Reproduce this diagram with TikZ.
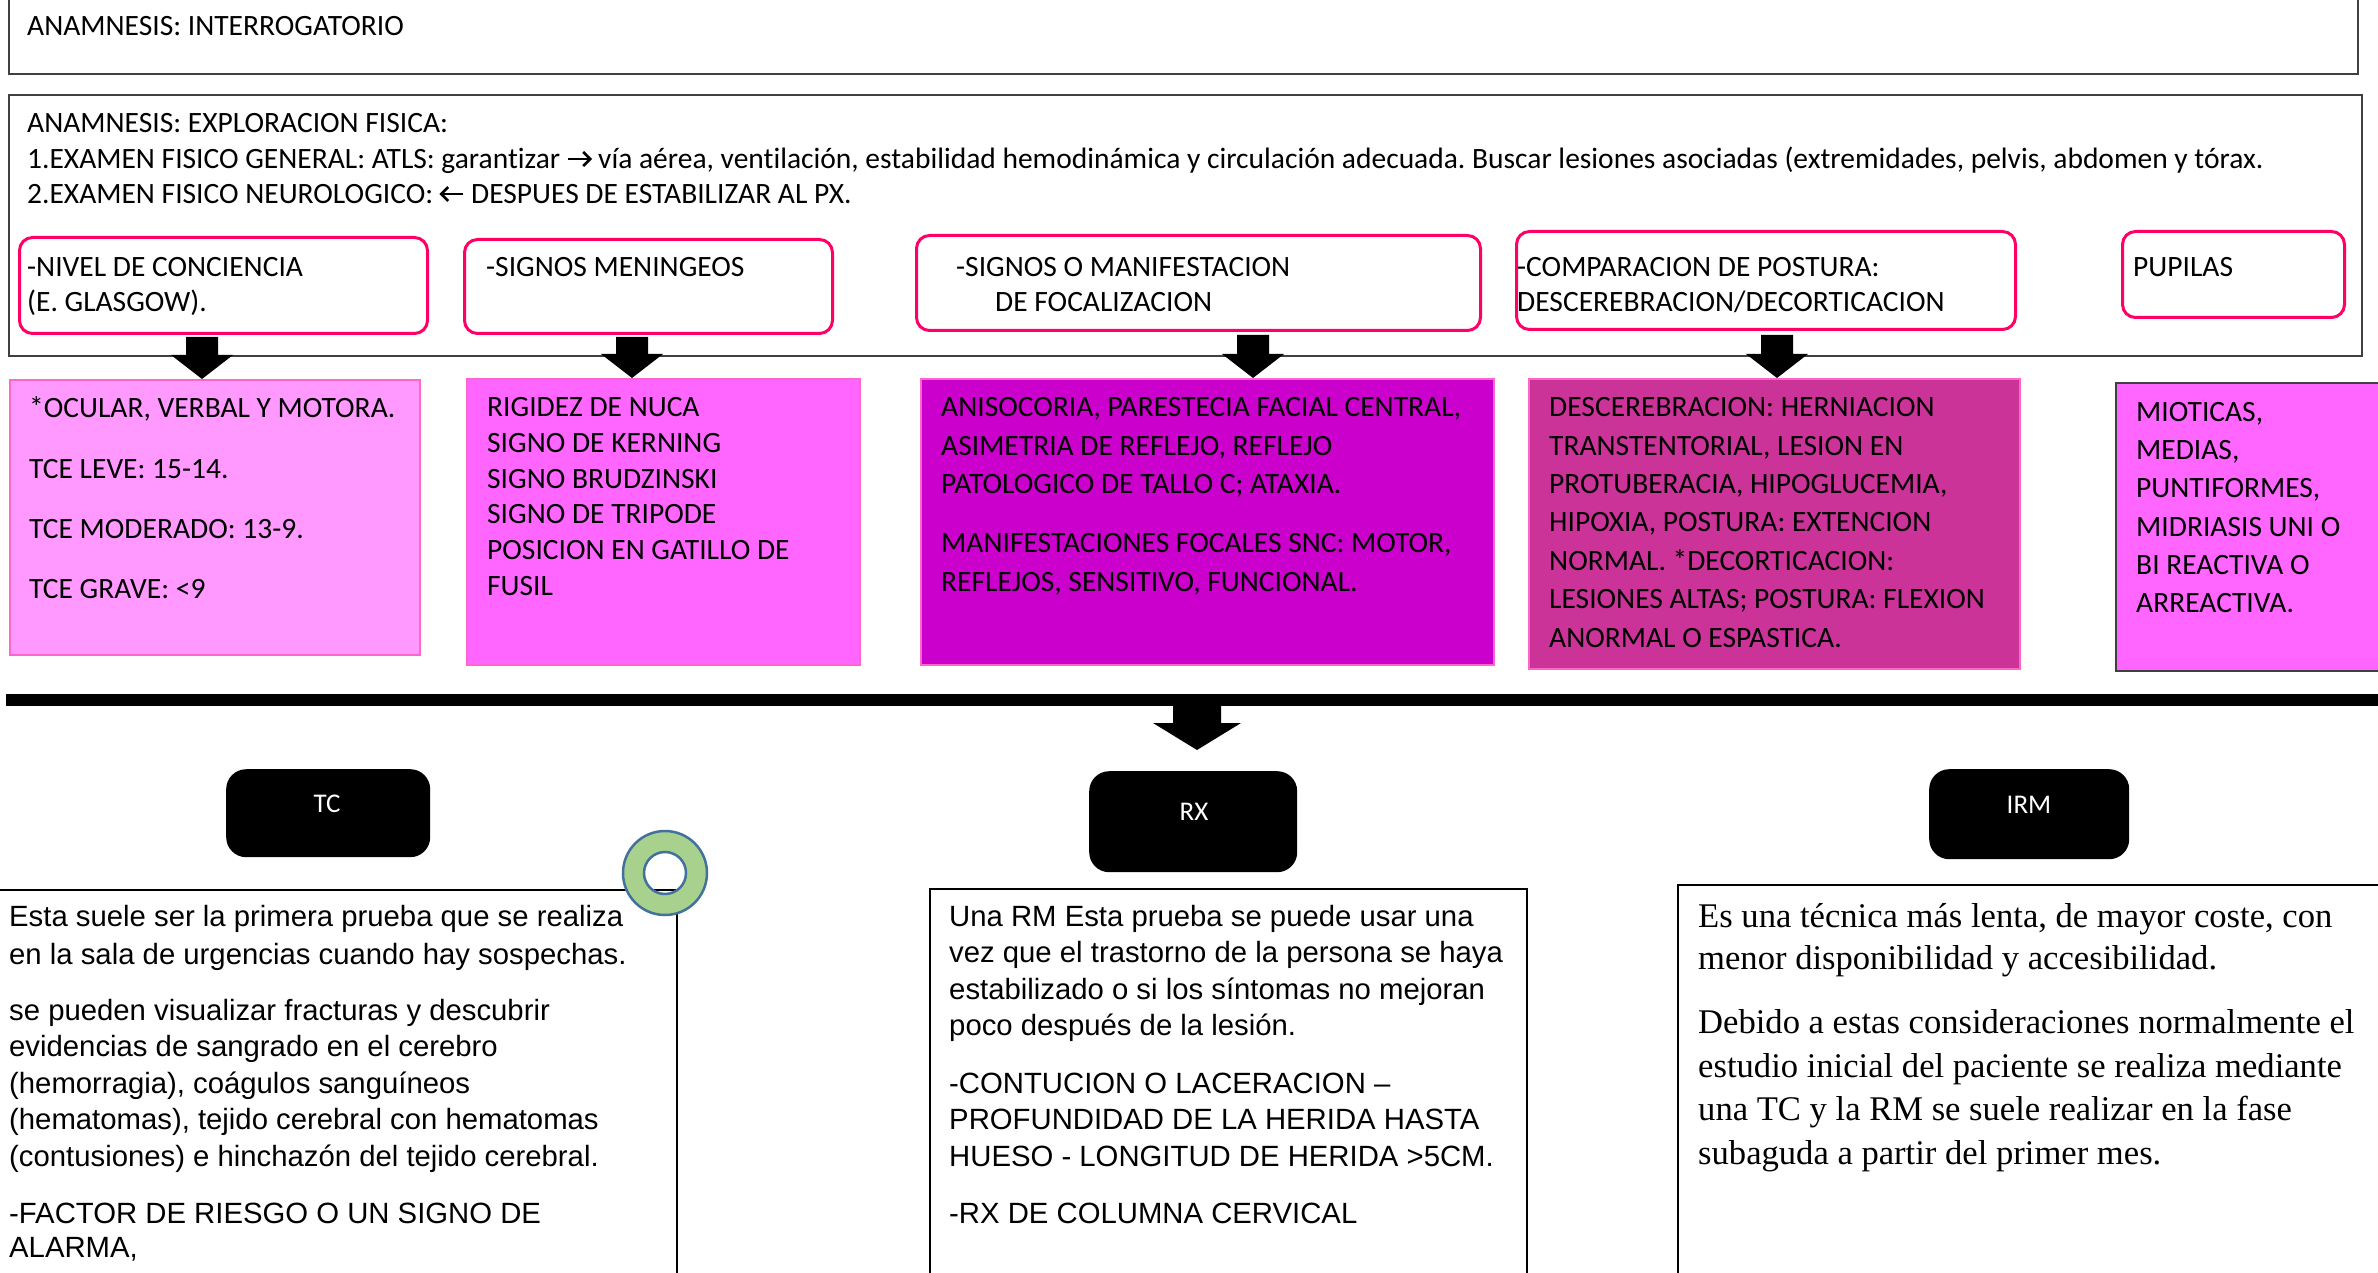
\documentclass[tikz,border=0pt]{standalone}
\usepackage{fontspec}
\setmainfont{Carlito}[Ligatures={NoCommon}]
\newfontfamily\arialf{Liberation Sans}
\newfontfamily\timesf{Liberation Serif}
\usetikzlibrary{calc}
\definecolor{pinkline}{HTML}{FF0066}
\definecolor{fa}{HTML}{FF99FF}
\definecolor{fb}{HTML}{FF66FF}
\definecolor{fc}{HTML}{CC00CC}
\definecolor{fd}{HTML}{CC3399}
\definecolor{fedge}{HTML}{FF66CC}
\definecolor{boxgray}{HTML}{404040}
\definecolor{ringg}{HTML}{A9D18E}
\definecolor{ringb}{HTML}{41719C}
\newcommand\blockarr[5]{\fill let \p1=(#1), \p2=(#2) in (\x1-#3,\y1) -- (\x1+#3,\y1) -- (\x1+#3,\y2+#5) -- (\x1+#4,\y2+#5) -- (\x1,\y2) -- (\x1-#4,\y2+#5) -- (\x1-#3,\y2+#5) -- cycle;}
\newcommand\myrarr{\tikz[baseline=0pt, x=1pt, y=1pt, line width=2.6pt, line cap=butt, line join=miter]{\draw (1,9.5) -- (23,9.5); \draw (16,2.5) -- (23,9.5) -- (16,16.5);}}
\newcommand\mylarr{\tikz[baseline=0pt, x=1pt, y=1pt, line width=2.6pt, line cap=butt, line join=miter]{\draw (24,9.5) -- (2,9.5); \draw (9,2.5) -- (2,9.5) -- (9,16.5);}}
\tikzset{
  outerframe/.style={draw=boxgray, line width=2pt, anchor=north west, inner sep=0pt},
  pbox/.style={draw=pinkline, line width=3pt, rounded corners=13pt, anchor=north west, inner sep=0pt},
  fbox/.style={anchor=north west, inner sep=0pt, draw=fedge, line width=1.5pt},
  kbox/.style={fill=black, rounded corners=20pt, anchor=north west, inner sep=0pt},
  tbox/.style={draw=black, line width=1.5pt, anchor=north west, inner sep=0pt},
  cal/.style={anchor=west, inner sep=0pt, font=\fontsize{29.5}{35}\selectfont, text height=19pt, text depth=0pt},
  ari/.style={anchor=west, inner sep=0pt, font=\arialf\fontsize{29.3}{35}\selectfont, text height=21pt, text depth=0pt},
  tms/.style={anchor=west, inner sep=0pt, font=\timesf\fontsize{34.6}{40}\selectfont, text height=22.9pt, text depth=0pt},
  wlab/.style={anchor=center, inner sep=0pt, text=white, font=\fontsize{27}{33}\selectfont, text height=17.4pt, text depth=0pt},
}
\begin{document}
\frenchspacing
\begin{tikzpicture}[x=1pt,y=-1pt]
\useasboundingbox (0,0) rectangle (2378,1273);
\begin{scope}
\clip (0,0) rectangle (2378,1273);
% top frames
\node[outerframe, minimum width=2349pt, minimum height=80pt] (box1) at (8,-7) {};
\node[cal] (t1) at (27,26) {ANAMNESIS: INTERROGATORIO};
\node[outerframe, minimum width=2353pt, minimum height=261pt] (box2) at (8,94) {};
\node[cal] (t2) at (27,123) {ANAMNESIS: EXPLORACION FISICA:};
\node[cal] (t3) at (27,159) {1.EXAMEN FISICO GENERAL: ATLS: garantizar \myrarr{} vía aérea, ventilación, estabilidad hemodinámica y circulación adecuada. Buscar lesiones asociadas (extremidades, pelvis, abdomen y tórax.};
\node[cal] (t4) at (27,194) {2.EXAMEN FISICO NEUROLOGICO: \mylarr{} DESPUES DE ESTABILIZAR AL PX.};
% pink outlined boxes
\node[pbox, minimum width=408pt, minimum height=96pt] (pA) at (18,236) {};
\node[cal] (pAt1) at (27,267) {-NIVEL DE CONCIENCIA};
\node[cal] (pAt2) at (27,302) {(E. GLASGOW).};
\node[pbox, minimum width=368pt, minimum height=94pt] (pB) at (463,238) {};
\node[cal] (pBt1) at (486,267) {-SIGNOS MENINGEOS};
\node[pbox, minimum width=564pt, minimum height=95pt] (pC) at (915,234) {};
\node[cal] (pCt1) at (956,267) {-SIGNOS O MANIFESTACION};
\node[cal] (pCt2) at (995,302) {DE FOCALIZACION};
\node[pbox, minimum width=499pt, minimum height=98pt] (pD) at (1515,230) {};
\node[cal] (pDt1) at (1517,267) {-COMPARACION DE POSTURA:};
\node[cal] (pDt2) at (1517,302) {DESCEREBRACION/DECORTICACION};
\node[pbox, minimum width=222pt, minimum height=86pt] (pE) at (2121,230) {};
\node[cal] (pEt1) at (2133,267) {PUPILAS};
% filled boxes
\node[fbox, fill=fa, minimum width=410pt, minimum height=275pt] (fA) at (9,379) {};
\node[fbox, fill=fb, minimum width=393pt, minimum height=286pt] (fB) at (466,378) {};
\node[fbox, fill=fc, minimum width=573pt, minimum height=286pt] (fC) at (920,378) {};
\node[fbox, fill=fd, minimum width=491pt, minimum height=290pt] (fD) at (1528,378) {};
\node[fbox, fill=fb, draw=boxgray, line width=2pt, minimum width=300pt, minimum height=288pt] (fE) at (2115,382) {};
\foreach \t/\yy [count=\i] in {{*OCULAR, VERBAL Y MOTORA.}/408, {TCE LEVE: 15-14.}/469, {TCE MODERADO: 13-9.}/529, {TCE GRAVE: <9}/589}
  \node[cal] (fAt\i) at (29,\yy) {\t};
\foreach \t/\yy [count=\i] in {{RIGIDEZ DE NUCA}/407, {SIGNO DE KERNING}/443, {SIGNO BRUDZINSKI}/479, {SIGNO DE TRIPODE}/514, {POSICION EN GATILLO DE}/550, {FUSIL}/586}
  \node[cal] (fBt\i) at (487,\yy) {\t};
\foreach \t/\yy [count=\i] in {{ANISOCORIA, PARESTECIA FACIAL CENTRAL,}/407, {ASIMETRIA DE REFLEJO, REFLEJO}/446, {PATOLOGICO DE TALLO C; ATAXIA.}/484, {MANIFESTACIONES FOCALES SNC: MOTOR,}/543, {REFLEJOS, SENSITIVO, FUNCIONAL.}/582}
  \node[cal] (fCt\i) at (941,\yy) {\t};
\foreach \t/\yy [count=\i] in {{DESCEREBRACION: HERNIACION}/407, {TRANSTENTORIAL, LESION EN}/446, {PROTUBERACIA, HIPOGLUCEMIA,}/484, {HIPOXIA, POSTURA: EXTENCION}/522, {NORMAL. *DECORTICACION:}/561, {LESIONES ALTAS; POSTURA: FLEXION}/599, {ANORMAL O ESPASTICA.}/638}
  \node[cal] (fDt\i) at (1549,\yy) {\t};
\foreach \t/\yy [count=\i] in {{MIOTICAS,}/412, {MEDIAS,}/450, {PUNTIFORMES,}/488, {MIDRIASIS UNI O}/527, {BI REACTIVA O}/565, {ARREACTIVA.}/603}
  \node[cal] (fEt\i) at (2136,\yy) {\t};
% block arrows from pink boxes to filled boxes
\coordinate (a1s) at (202,337);
\coordinate (a2s) at (632,337);
\coordinate (a3s) at (1253,335);
\coordinate (a4s) at (1777,335);
\blockarr{a1s}{a1s |- fA.north}{16pt}{31pt}{24pt}
\blockarr{a2s}{a2s |- fB.north}{16pt}{31pt}{24pt}
\blockarr{a3s}{a3s |- fC.north}{16pt}{31pt}{24pt}
\blockarr{a4s}{a4s |- fD.north}{16pt}{31pt}{24pt}
% thick bar
\coordinate (barL) at (6,700);
\coordinate (barR) at (2390,700);
\draw[line width=12pt] (barL) -- (barR);
\coordinate (bigs) at (1197,704);
\coordinate (bigt) at (1197,750);
\blockarr{bigs}{bigt}{24pt}{44pt}{27pt}
% black boxes
\node[kbox, minimum width=204pt, minimum height=88pt] (tc) at (226,769) {};
\node[wlab] (tcl) at (327,804) {TC};
\node[kbox, minimum width=208pt, minimum height=101pt] (rx) at (1089,771) {};
\node[wlab] (rxl) at (1194,812) {RX};
\node[kbox, minimum width=200pt, minimum height=90pt] (irm) at (1929,769) {};
\node[wlab] (irml) at (2029,805) {IRM};
% text boxes
\node[tbox, minimum width=679pt, minimum height=420pt] (tcbox) at (-3,889) {};
\node[tbox, minimum width=597pt, minimum height=420pt] (rxbox) at (929,888) {};
\node[tbox, minimum width=800pt, minimum height=420pt] (irmbox) at (1677,884) {};
\foreach \t/\yy [count=\i] in {{Esta suele ser la primera prueba que se realiza}/916, {en la sala de urgencias cuando hay sospechas.}/954, {se pueden visualizar fracturas y descubrir}/1010, {evidencias de sangrado en el cerebro}/1046, {(hemorragia), coágulos sanguíneos}/1083, {(hematomas), tejido cerebral con hematomas}/1119, {(contusiones) e hinchazón del tejido cerebral.}/1156, {-FACTOR DE RIESGO O UN SIGNO DE}/1213, {ALARMA,}/1247}
  \node[ari] (tct\i) at (9,\yy) {\t};
\foreach \t/\yy [count=\i] in {{Una RM Esta prueba se puede usar una}/916, {vez que el trastorno de la persona se haya}/952, {estabilizado o si los síntomas no mejoran}/989, {poco después de la lesión.}/1025, {-CONTUCION O LACERACION –}/1083, {PROFUNDIDAD DE LA HERIDA HASTA}/1119, {HUESO - LONGITUD DE HERIDA >5CM.}/1156, {-RX DE COLUMNA CERVICAL}/1213}
  \node[ari] (rxt\i) at (949,\yy) {\t};
\foreach \t/\yy [count=\i] in {{Es una técnica más lenta, de mayor coste, con}/916, {menor disponibilidad y accesibilidad.}/958, {Debido a estas consideraciones normalmente el}/1022, {estudio inicial del paciente se realiza mediante}/1066, {una TC y la RM se suele realizar en la fase}/1109, {subaguda a partir del primer mes.}/1153}
  \node[tms] (irmt\i) at (1698,\yy) {\t};
% ring
\coordinate (ringc) at (665,873);
\filldraw[fill=ringg, draw=ringb, line width=2.5pt, even odd rule] (ringc) circle[radius=42] (ringc) circle[radius=21];
\end{scope}
\end{tikzpicture}
\end{document}
